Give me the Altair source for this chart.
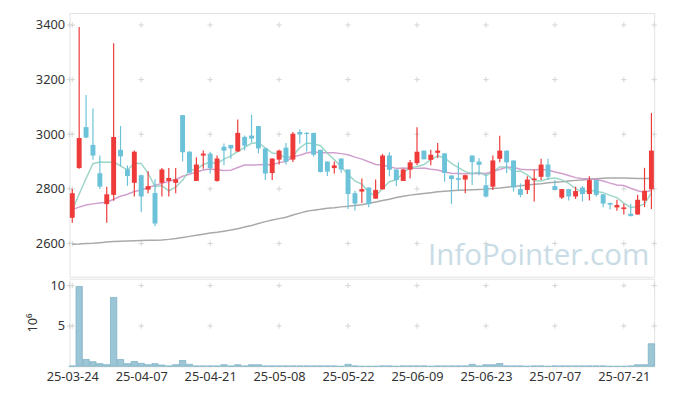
import altair as alt
import pandas as pd

# ---------------- data ----------------
dates = [
    "25-03-24", "25-03-25", "25-03-26", "25-03-27", "25-03-28",
    "25-03-31", "25-04-01", "25-04-02", "25-04-03", "25-04-04",
    "25-04-07", "25-04-08", "25-04-09", "25-04-10", "25-04-11",
    "25-04-14", "25-04-15", "25-04-16", "25-04-17", "25-04-18",
    "25-04-21", "25-04-22", "25-04-23", "25-04-24", "25-04-25",
    "25-04-28", "25-04-29", "25-04-30", "25-05-02", "25-05-07",
    "25-05-08", "25-05-09", "25-05-12", "25-05-13", "25-05-14",
    "25-05-15", "25-05-16", "25-05-19", "25-05-20", "25-05-21",
    "25-05-22", "25-05-23", "25-05-26", "25-05-27", "25-05-28",
    "25-05-29", "25-05-30", "25-06-02", "25-06-04", "25-06-05",
    "25-06-09", "25-06-10", "25-06-11", "25-06-12", "25-06-13",
    "25-06-16", "25-06-17", "25-06-18", "25-06-19", "25-06-20",
    "25-06-23", "25-06-24", "25-06-25", "25-06-26", "25-06-27",
    "25-06-30", "25-07-01", "25-07-02", "25-07-03", "25-07-04",
    "25-07-07", "25-07-08", "25-07-09", "25-07-10", "25-07-11",
    "25-07-14", "25-07-15", "25-07-16", "25-07-17", "25-07-18",
    "25-07-21", "25-07-22", "25-07-23", "25-07-24", "25-07-25",
]
opens = [
    2694, 2876, 3026, 2961, 2857, 2744, 2778, 2943, 2871, 2822,
    2850, 2797, 2785, 2822, 2829, 2822, 3070, 2936, 2829, 2922,
    2929, 2829, 2954, 2961, 2937, 2990, 2995, 3030, 2948, 2858,
    2907, 2951, 2907, 3008, 3005, 3005, 2943, 2900, 2876, 2911,
    2871, 2784, 2790, 2805, 2764, 2798, 2922, 2871, 2829, 2870,
    2894, 2940, 2906, 2932, 2930, 2849, 2839, 2834, 2922, 2900,
    2813, 2808, 2910, 2940, 2904, 2799, 2796, 2832, 2844, 2889,
    2810, 2768, 2799, 2772, 2805, 2781, 2832, 2780, 2748, 2732,
    2726, 2709, 2706, 2757, 2798,
]
highs = [
    2799, 3393, 3144, 3094, 2922, 2808, 3333, 3030, 2886, 2940,
    2852, 2864, 2835, 2876, 2876, 2876, 3070, 2938, 2916, 2940,
    2936, 2922, 2966, 2961, 3054, 2995, 3072, 3030, 2950, 2911,
    2943, 2968, 3008, 3018, 3008, 3005, 2943, 2900, 2900, 2911,
    2871, 2793, 2838, 2805, 2834, 2928, 2934, 2871, 2874, 2906,
    3026, 2940, 2943, 2968, 2930, 2849, 2897, 2852, 2922, 2912,
    2853, 2922, 2994, 2940, 2904, 2820, 2846, 2870, 2910, 2910,
    2832, 2799, 2800, 2808, 2810, 2846, 2832, 2780, 2750, 2760,
    2745, 2745, 2778, 2877, 3078,
]
lows = [
    2676, 2874, 2985, 2907, 2799, 2676, 2756, 2883, 2811, 2772,
    2715, 2784, 2663, 2772, 2772, 2784, 2901, 2856, 2829, 2874,
    2856, 2826, 2886, 2910, 2935, 2940, 2970, 2930, 2832, 2832,
    2889, 2889, 2898, 2966, 2937, 2918, 2860, 2847, 2856, 2859,
    2726, 2721, 2748, 2733, 2764, 2798, 2846, 2810, 2829, 2838,
    2886, 2908, 2886, 2913, 2826, 2745, 2793, 2784, 2814, 2850,
    2768, 2796, 2897, 2858, 2790, 2769, 2781, 2754, 2832, 2832,
    2796, 2763, 2757, 2763, 2754, 2757, 2772, 2733, 2724, 2720,
    2706, 2700, 2706, 2733, 2726,
]
closes = [
    2784, 2986, 2988, 2922, 2808, 2780, 2990, 2919, 2847, 2936,
    2772, 2810, 2673, 2871, 2840, 2835, 2934, 2859, 2889, 2929,
    2876, 2911, 2940, 2948, 3005, 2958, 2984, 2948, 2856, 2911,
    2940, 2900, 3002, 2999, 3001, 2925, 2862, 2863, 2886, 2871,
    2781, 2746, 2799, 2744, 2796, 2922, 2870, 2832, 2871, 2897,
    2936, 2908, 2925, 2940, 2858, 2836, 2833, 2850, 2898, 2888,
    2772, 2904, 2940, 2897, 2805, 2778, 2834, 2838, 2889, 2844,
    2796, 2799, 2772, 2792, 2781, 2832, 2778, 2746, 2742, 2741,
    2732, 2700, 2760, 2793, 2940,
]
ma5 = [
    2721, 2781, 2838, 2892, 2898, 2897, 2898, 2884, 2869, 2894,
    2893, 2857, 2808, 2812, 2793, 2806, 2831, 2868, 2871, 2889,
    2897, 2893, 2909, 2921, 2936, 2952, 2967, 2969, 2950, 2931,
    2928, 2911, 2922, 2950, 2968, 2965, 2958, 2930, 2907, 2881,
    2853, 2829, 2817, 2788, 2773, 2801, 2826, 2833, 2858, 2878,
    2881, 2889, 2907, 2921, 2913, 2893, 2878, 2863, 2855, 2861,
    2848, 2862, 2880, 2880, 2864, 2865, 2851, 2830, 2829, 2837,
    2840, 2833, 2820, 2801, 2788, 2795, 2791, 2786, 2776, 2768,
    2748, 2732, 2735, 2745, 2785,
]
ma20 = [
    2724, 2733, 2741, 2745, 2748, 2751, 2762, 2773, 2780, 2790,
    2796, 2804, 2813, 2820, 2828, 2834, 2846, 2853, 2862, 2869,
    2873, 2870, 2867, 2868, 2878, 2887, 2887, 2888, 2889, 2888,
    2896, 2900, 2917, 2923, 2931, 2936, 2932, 2932, 2932, 2929,
    2925, 2916, 2909, 2899, 2889, 2887, 2881, 2875, 2876, 2875,
    2875, 2876, 2872, 2869, 2862, 2857, 2856, 2855, 2856, 2857,
    2856, 2864, 2871, 2879, 2879, 2872, 2870, 2870, 2871, 2869,
    2862, 2856, 2849, 2841, 2837, 2837, 2834, 2829, 2821, 2814,
    2812, 2802, 2793, 2788, 2794,
]
ma_long = [
    2597, 2598, 2600, 2601, 2603, 2605, 2607, 2608, 2609, 2610,
    2611, 2612, 2612, 2613, 2615, 2618, 2622, 2626, 2630, 2634,
    2638, 2641, 2645, 2649, 2654, 2660, 2666, 2673, 2680, 2686,
    2691, 2696, 2704, 2711, 2718, 2722, 2725, 2729, 2731, 2734,
    2736, 2739, 2742, 2747, 2752, 2757, 2762, 2768, 2773, 2777,
    2780, 2783, 2786, 2789, 2791, 2793, 2795, 2796, 2797, 2798,
    2799, 2801, 2803, 2806, 2809, 2811, 2814, 2817, 2819, 2822,
    2824, 2826, 2829, 2831, 2832, 2835, 2837, 2839, 2840, 2840,
    2840, 2839, 2838, 2838, 2838,
]
volume_m = [
    0.05, 9.9, 0.85, 0.57, 0.33, 0.2, 8.54, 0.85, 0.33, 0.6,
    0.37, 0.2, 0.33, 0.16, 0.05, 0.2, 0.72, 0.25, 0.05, 0.05,
    0.05, 0.05, 0.2, 0.05, 0.2, 0.05, 0.2, 0.2, 0.05, 0.05,
    0.05, 0.05, 0.05, 0.05, 0.05, 0.05, 0.05, 0.05, 0.05, 0.0,
    0.25, 0.05, 0.0, 0.0, 0.0, 0.05, 0.05, 0.0, 0.05, 0.05,
    0.05, 0.05, 0.0, 0.05, 0.05, 0.05, 0.05, 0.05, 0.25, 0.05,
    0.2, 0.2, 0.35, 0.05, 0.05, 0.05, 0.0, 0.05, 0.05, 0.0,
    0.05, 0.05, 0.05, 0.05, 0.05, 0.05, 0.05, 0.05, 0.0, 0.0,
    0.0, 0.05, 0.2, 0.2, 2.8,
]
price_ticks = [2600, 2800, 3000, 3200, 3400]
volume_ticks = [5, 10]
watermark = "InfoPointer.com"

# ---------------- styling / layout ----------------
RED = "#ef3a3a"
BLUE = "#6cc2d8"
GRID = "#d4d4d4"
FONT = "Noto Sans"
W, H1, H2 = 594, 268, 89
x_domain = [-0.4, 84.4]
y_domain = [2478, 3444]
v_domain = [0, 10.85]
CROSS = "M-1,0L1,0M0,-1L0,1"

n = len(dates)
df = pd.DataFrame({
    "idx": list(range(n)), "date": dates, "open": opens, "high": highs,
    "low": lows, "close": closes, "ma5": ma5, "ma20": ma20,
    "ma_long": ma_long, "vol": volume_m,
})
df["dir"] = ["up" if c >= o else "down" for o, c in zip(opens, closes)]

tick_idx = list(range(0, n, 10))
label_expr = "[" + ",".join("'%s'" % dates[i] for i in tick_idx) + "][round(datum.value/10)]"

# small "+" grid marks at tick intersections (and on the frame edges)
cross_x = tick_idx + x_domain
price_cross = pd.DataFrame([(x, y) for x in cross_x for y in price_ticks], columns=["cx", "cy"])
vol_cross = pd.DataFrame([(x, y) for x in cross_x for y in volume_ticks], columns=["cx", "cy"])

x_scale = alt.Scale(domain=x_domain, nice=False, zero=False, padding=0)
y_scale = alt.Scale(domain=y_domain, nice=False, zero=False, padding=0)
v_scale = alt.Scale(domain=v_domain, nice=False, padding=0)

y_axis_price = alt.Axis(values=price_ticks, format="d", ticks=False, domain=False, grid=False,
                        labelPadding=5, minExtent=30, maxExtent=30,
                        title="10⁶", titleOpacity=0, titlePadding=1)

xp = alt.X("idx:Q", scale=x_scale, axis=None)
color = alt.Color("dir:N", scale=alt.Scale(domain=["up", "down"], range=[RED, BLUE]), legend=None)

base = alt.Chart(df)

grid_p = alt.Chart(price_cross).mark_point(
    shape=CROSS, size=30, stroke=GRID, strokeWidth=1, filled=False, opacity=1
).encode(x=alt.X("cx:Q", scale=x_scale, axis=None),
         y=alt.Y("cy:Q", scale=y_scale, axis=y_axis_price))

wm = alt.Chart(pd.DataFrame({"t": [watermark]})).mark_text(
    align="right", baseline="alphabetic", fontSize=30, font="Open Sans", color="#c9dce6"
).encode(text="t:N", x=alt.value(W - 5), y=alt.value(H1 - 12))

wicks = base.mark_rule(strokeWidth=1.2).encode(
    x=xp, y=alt.Y("low:Q", scale=y_scale, axis=y_axis_price), y2="high:Q", color=color)
bodies = base.mark_bar(size=5).encode(
    x=xp, y=alt.Y("open:Q", scale=y_scale, axis=y_axis_price), y2="close:Q", color=color)

def ma_line(field, col):
    return base.mark_line(color=col, strokeWidth=1.5, opacity=0.85).encode(
        x=xp, y=alt.Y(field + ":Q", scale=y_scale, axis=y_axis_price))

price = alt.layer(
    grid_p, wm, ma_line("ma_long", "#9a9a9a"), ma_line("ma20", "#c98fc4"),
    ma_line("ma5", "#8ccfc0"), wicks, bodies,
).properties(width=W, height=H1)

x_axis_vol = alt.Axis(values=tick_idx, labelExpr=label_expr, ticks=False, domain=False,
                      title=None, grid=False, labelPadding=4, labelFlush=False)
y_axis_vol = alt.Axis(values=volume_ticks, format="d", ticks=False, domain=False, grid=False,
                      labelPadding=5, minExtent=30, maxExtent=30,
                      title="10⁶", titlePadding=1)

grid_v = alt.Chart(vol_cross).mark_point(
    shape=CROSS, size=30, stroke=GRID, strokeWidth=1, filled=False, opacity=1
).encode(x=alt.X("cx:Q", scale=x_scale, axis=x_axis_vol),
         y=alt.Y("cy:Q", scale=v_scale, axis=y_axis_vol))

vol_bars = alt.Chart(df).mark_bar(size=6.4, fill="#9cc5d5", stroke="#80b2c6", strokeWidth=0.8).encode(
    x=alt.X("idx:Q", scale=x_scale, axis=x_axis_vol),
    y=alt.Y("vol:Q", scale=v_scale, axis=y_axis_vol),
)

volume = alt.layer(grid_v, vol_bars).properties(width=W, height=H2)

chart = alt.vconcat(price, volume, spacing=0).properties(
    padding={"left": 17.5, "top": 1, "right": 5, "bottom": 5}
).configure_view(stroke="#e2e2e2").configure_axis(
    labelFont=FONT, labelFontSize=13, labelColor="#333333",
    titleFont=FONT, titleFontSize=13, titleColor="#333333", titleFontWeight="normal",
)

chart.save("out.html", embed_options={"renderer": "svg", "actions": False})
